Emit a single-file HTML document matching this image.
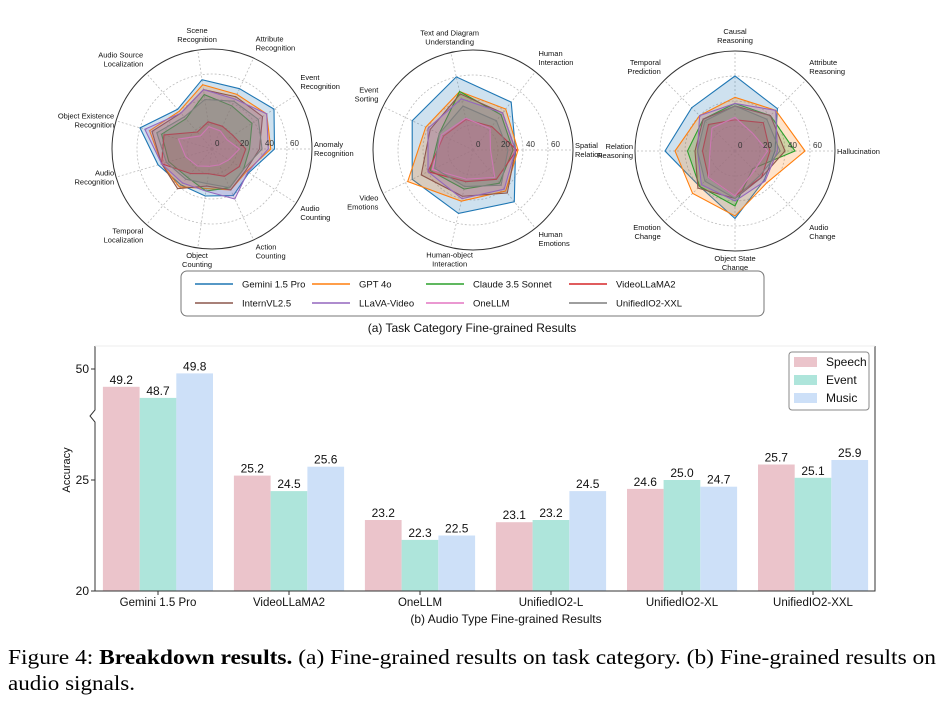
<!DOCTYPE html>
<html><head><meta charset="utf-8"><style>
html,body{margin:0;padding:0;background:#fff;}
svg{display:block;font-family:"Liberation Sans",sans-serif;}
</style></head><body>
<svg id="fig" width="951" height="701" viewBox="0 0 951 701" xmlns="http://www.w3.org/2000/svg">
<g id="radars"></g>
<g id="legendA"></g>
<text x="472" y="332" font-size="12" text-anchor="middle" fill="#111">(a) Task Category Fine-grained Results</text>
<g id="bars"></g>
<text x="506" y="623" font-size="12" text-anchor="middle" fill="#111">(b) Audio Type Fine-grained Results</text>
<text x="8" y="664" font-family="Liberation Serif, serif" font-size="21" textLength="928" lengthAdjust="spacingAndGlyphs" fill="#000">Figure 4: <tspan font-weight="bold">Breakdown results.</tspan> (a) Fine-grained results on task category. (b) Fine-grained results on</text>
<text x="8" y="690" font-family="Liberation Serif, serif" font-size="21" textLength="127" lengthAdjust="spacingAndGlyphs" fill="#000">audio signals.</text>
</svg>
<script>
const NS="http://www.w3.org/2000/svg";
const models=["Gemini 1.5 Pro","GPT 4o","Claude 3.5 Sonnet","VideoLLaMA2","InternVL2.5","LLaVA-Video","OneLLM","UnifiedIO2-XXL"];
const colors=["#1f77b4","#ff7f0e","#2ca02c","#d62728","#8c564b","#9467bd","#e377c2","#7f7f7f"];
const axes1=[["Anomaly","Recognition"],["Event","Recognition"],["Attribute","Recognition"],["Scene","Recognition"],["Audio Source","Localization"],["Object Existence","Recognition"],["Audio","Recognition"],["Temporal","Localization"],["Object","Counting"],["Action","Counting"],["Audio","Counting"]];
const vals1=[[50,59,53,56,42,60,45,38,38,41,35],[47,52,48,52,40,52,42,40,32,36,33],[30,38,38,44,32,42,36,30,34,34,30],[27,20,20,22,18,40,42,26,20,24,26],[38,48,46,48,38,50,42,42,30,36,32],[45,52,44,48,38,56,42,36,34,44,34],[22,14,16,18,14,28,22,18,14,14,16],[40,44,42,40,34,46,38,32,28,34,30]];
const axes2=[["Spatial","Relation"],["Human","Interaction"],["Text and Diagram","Understanding"],["Event","Sorting"],["Video","Emotions"],["Human-object","Interaction"],["Human","Emotions"]];
const vals2=[[34,49,60,54,54,52,53],[36,42,48,42,58,42,42],[32,36,48,30,38,32,34],[35,24,25,26,40,26,30],[34,38,46,38,46,38,44],[34,38,42,40,40,40,40],[14,22,26,28,36,24,28],[28,30,36,30,34,30,36]];
const axes3=[["Hallucination"],["Attribute","Reasoning"],["Causal","Reasoning"],["Temporal","Prediction"],["Relation","Reasoning"],["Emotion","Change"],["Object State","Change"],["Audio","Change"]];
const vals3=[[32,48,60,49,56,40,54,33],[56,46,43,40,48,48,52,36],[48,40,38,36,38,40,44,20],[28,32,25,30,26,30,36,30],[40,40,36,36,32,42,38,30],[34,46,38,40,30,38,40,34],[26,20,27,26,20,30,36,22],[36,36,36,34,30,34,38,28]];
const rTicks=[0,20,40,60];
const rMax=80;

function mk(tag,attrs,parent){const e=document.createElementNS(NS,tag);for(const k in attrs)e.setAttribute(k,attrs[k]);parent.appendChild(e);return e;}

function radar(cx,cy,R,axes,vals,name){
  const g=mk("g",{},document.getElementById("radars"));
  
  
  const n=axes.length;
  const rs=v=>v/rMax*R;
  const ang=i=>-2*Math.PI*i/n;
  [20,40,60].forEach(t=>{const c=mk("circle",{cx,cy,r:rs(t),fill:"none",stroke:"#bbb","stroke-dasharray":"2,2","stroke-width":0.8},g);
    
    });
  for(let i=0;i<n;i++){const a=ang(i);const l=mk("line",{x1:cx,y1:cy,x2:cx+R*Math.cos(a),y2:cy+R*Math.sin(a),stroke:"#bbb","stroke-dasharray":"2,2","stroke-width":0.8},g);
    
    }
  vals.forEach((s,k)=>{
    const pts=s.map((v,i)=>{const a=ang(i);return (cx+rs(v)*Math.cos(a)).toFixed(1)+","+(cy+rs(v)*Math.sin(a)).toFixed(1);}).join(" ");
    const p=mk("polygon",{points:pts,fill:colors[k],"fill-opacity":0.22,stroke:colors[k],"stroke-width":1.1},g);
    
    
  });
  const oc=mk("circle",{cx,cy,r:R,fill:"none",stroke:"#333","stroke-width":1},g);
  
  
  rTicks.forEach(t=>{const tx=mk("text",{x:cx+rs(t)+3,y:cy-3,"font-size":8,fill:"#333"},g);tx.textContent=t;
    
    });
  axes.forEach((lab,i)=>{
    const a=ang(i);
    const c=Math.cos(a),s=Math.sin(a);
    const LR=(Math.abs(s)<0.3)?R+2:R+5;
    const x=cx+LR*Math.cos(a),y=cy+LR*Math.sin(a);
    const anchor=c>0.3?"start":(c<-0.3?"end":"middle");
    let y0;
    if(s<-0.3) y0=y-(lab.length-1)*10-2;
    else if(s>0.3) y0=y+5;
    else y0=y-(lab.length-1)*5+3;
    const t=mk("text",{x:x,y:y0,"font-size":7.5,"text-anchor":anchor,fill:"#111"},g);
    lab.forEach((str,j)=>{const ts=mk("tspan",{x:x,dy:j?9:0},t);ts.textContent=str;});
    
    
  });
}
radar(212,149,100,axes1,vals1,"radar-perception");
radar(473,150,100,axes2,vals2,"radar-understanding");
radar(735,151,100,axes3,vals3,"radar-reasoning");

// legend A
(function(){
  const g=document.getElementById("legendA");
  const box=mk("rect",{x:181,y:271,width:583,height:45,rx:6,fill:"#fff",stroke:"#777","stroke-width":1},g);
  
  
  const colX=[195,312,426,569];
  models.forEach((m,k)=>{
    const cx=colX[k%4],y=k<4?284:303;
    const l=mk("line",{x1:cx,y1:y,x2:cx+38,y2:y,stroke:colors[k],"stroke-width":1.6},g);
    
    
    const t=mk("text",{x:cx+47,y:y+3.5,"font-size":9.5,fill:"#111"},g);t.textContent=m;
    
    
  });
})();

// bar chart
const barCats=["Gemini 1.5 Pro","VideoLLaMA2","OneLLM","UnifiedIO2-L","UnifiedIO2-XL","UnifiedIO2-XXL"];
const speech=[49.2,25.2,23.2,23.1,24.6,25.7];
const eventV=[48.7,24.5,22.3,23.2,25.0,25.1];
const music=[49.8,25.6,22.5,24.5,24.7,25.9];
const yTicks=[20,25,50];
const seriesNames=["Speech","Event","Music"];
const barColors=["#ebc4cb","#aee5db","#cde0f8"];
(function(){
  const g=document.getElementById("bars");
  const left=95,right=875,bottom=591,top=346;
  const ppu=22.2;
  const yScale=v=>v>=40? 369+(50-v)*ppu : bottom-(v-20)*ppu;
  const xCenter=i=>158+i*131;
  const bw=36.7;
  [speech,eventV,music].forEach((s,k)=>{
    s.forEach((v,i)=>{
      const x=xCenter(i)+(k-1.5)*bw, y=yScale(v);
      const r=mk("rect",{x:x.toFixed(1),y:y.toFixed(1),width:bw,height:(bottom-y).toFixed(1),fill:barColors[k]},g);
      
      
      const t=mk("text",{x:(x+bw/2).toFixed(1),y:(y-3).toFixed(1),"font-size":12,"text-anchor":"middle",fill:"#111"},g);
      t.textContent=v.toFixed(1);
      
      
    });
  });
  const sp=mk("path",{d:`M${left},${top} V410 l-5,6 l5,6 V${bottom} H${right} V${top}`,fill:"none",stroke:"#333","stroke-width":1},g);
  
  
  const tp=mk("line",{x1:left,y1:top,x2:right,y2:top,stroke:"#eee","stroke-width":1},g);
  
  
  yTicks.forEach(v=>{const y=yScale(v);
    const tl=mk("line",{x1:left-4,y1:y,x2:left,y2:y,stroke:"#333"},g);
    
    
    const t=mk("text",{x:left-6,y:y+4,"font-size":12,"text-anchor":"end",fill:"#111"},g);t.textContent=v;
    
    });
  barCats.forEach((c,i)=>{const x=xCenter(i);
    const tl=mk("line",{x1:x,y1:bottom,x2:x,y2:bottom+4,stroke:"#333"},g);
    
    
    const t=mk("text",{x:x,y:bottom+15,"font-size":11.5,"text-anchor":"middle",fill:"#111"},g);t.textContent=c;
    
    });
  const yt=mk("text",{x:0,y:0,"font-size":11,"text-anchor":"middle",fill:"#111",transform:"translate(70,470) rotate(-90)"},g);yt.textContent="Accuracy";
  
  
  const lb=mk("rect",{x:789,y:352,width:80,height:58,rx:3,fill:"#fff",stroke:"#888"},g);
  
  
  seriesNames.forEach((s,k)=>{const y=362+k*18;
    const sw=mk("rect",{x:794,y:y-5,width:23,height:10,fill:barColors[k]},g);
    
    
    const t=mk("text",{x:826,y:y+4,"font-size":12,fill:"#111"},g);t.textContent=s;
    
    });
})();
</script>
</body></html>
